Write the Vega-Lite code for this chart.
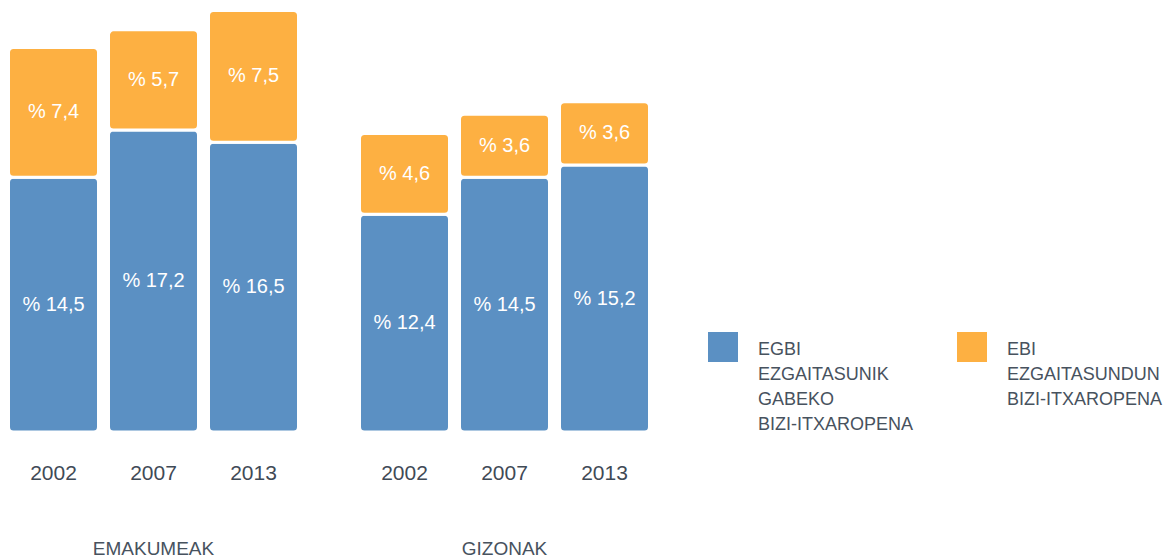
{
  "$schema": "https://vega.github.io/schema/vega-lite/v6.json",
  "padding": 0,
  "background": "white",
  "data": {
    "values": [
      {"sex": "EMAKUMEAK", "year": "2002", "type": "EGBI", "value": 14.5},
      {"sex": "EMAKUMEAK", "year": "2002", "type": "EBI", "value": 7.4},
      {"sex": "EMAKUMEAK", "year": "2007", "type": "EGBI", "value": 17.2},
      {"sex": "EMAKUMEAK", "year": "2007", "type": "EBI", "value": 5.7},
      {"sex": "EMAKUMEAK", "year": "2013", "type": "EGBI", "value": 16.5},
      {"sex": "EMAKUMEAK", "year": "2013", "type": "EBI", "value": 7.5},
      {"sex": "GIZONAK", "year": "2002", "type": "EGBI", "value": 12.4},
      {"sex": "GIZONAK", "year": "2002", "type": "EBI", "value": 4.6},
      {"sex": "GIZONAK", "year": "2007", "type": "EGBI", "value": 14.5},
      {"sex": "GIZONAK", "year": "2007", "type": "EBI", "value": 3.6},
      {"sex": "GIZONAK", "year": "2013", "type": "EGBI", "value": 15.2},
      {"sex": "GIZONAK", "year": "2013", "type": "EBI", "value": 3.6}
    ]
  },
  "transform": [
    {"stack": "value", "groupby": ["sex", "year"], "sort": [{"field": "type", "order": "descending"}], "as": ["v0", "v1"]},
    {"calculate": "(datum.v0 + datum.v1) / 2", "as": "mid"},
    {"calculate": "'% ' + replace(format(datum.value, '.1f'), '.', ',')", "as": "label"}
  ],
  "facet": {
    "column": {
      "field": "sex",
      "type": "nominal",
      "title": null,
      "header": {
        "labelOrient": "bottom",
        "labelFont": "Liberation Sans",
        "labelFontSize": 19,
        "labelColor": "#47525e",
        "labelPadding": 72,
        "labelBaseline": "middle"
      }
    }
  },
  "spacing": 44,
  "spec": {
    "width": 307,
    "height": 432,
    "layer": [
      {
        "mark": {"type": "bar", "cornerRadius": 5, "stroke": "white", "strokeWidth": 3},
        "encoding": {
          "x": {
            "field": "year",
            "type": "nominal",
            "title": null,
            "scale": {"paddingInner": 0.1, "paddingOuter": 0.085},
            "axis": {
              "domain": false,
              "ticks": false,
              "labelAngle": 0,
              "labelFont": "Liberation Sans",
              "labelFontSize": 21,
              "labelColor": "#3f4a56",
              "labelBaseline": "middle",
              "labelPadding": 45
            }
          },
          "y": {
            "field": "v0",
            "type": "quantitative",
            "scale": {"domain": [0, 24.6], "nice": false, "zero": true},
            "axis": null
          },
          "y2": {"field": "v1"},
          "color": {
            "field": "type",
            "type": "nominal",
            "scale": {"domain": ["EGBI", "EBI"], "range": ["#5b90c3", "#fdb042"]},
            "legend": {
              "title": null,
              "orient": "none",
              "legendX": 708,
              "legendY": 332,
              "direction": "horizontal",
              "columns": 2,
              "columnPadding": 43,
              "symbolType": "square",
              "symbolSize": 900,
              "symbolStrokeWidth": 0,
              "symbolOpacity": 1,
              "labelFont": "Liberation Sans",
              "labelFontSize": 18,
              "labelColor": "#47525e",
              "labelOffset": 20,
              "labelBaseline": "top",
              "labelLimit": 300,
              "labelExpr": "datum.label == 'EGBI' ? ['EGBI', 'EZGAITASUNIK', 'GABEKO', 'BIZI-ITXAROPENA'] : ['EBI', 'EZGAITASUNDUN', 'BIZI-ITXAROPENA', '']"
            }
          }
        }
      },
      {
        "mark": {"type": "text", "color": "white", "font": "Liberation Sans", "fontSize": 20},
        "encoding": {
          "x": {"field": "year", "type": "nominal"},
          "y": {"field": "mid", "type": "quantitative"},
          "text": {"field": "label"}
        }
      }
    ]
  },
  "config": {
    "view": {"stroke": null},
    "style": {"guide-label": {"lineHeight": 25, "dy": -6}}
  }
}
